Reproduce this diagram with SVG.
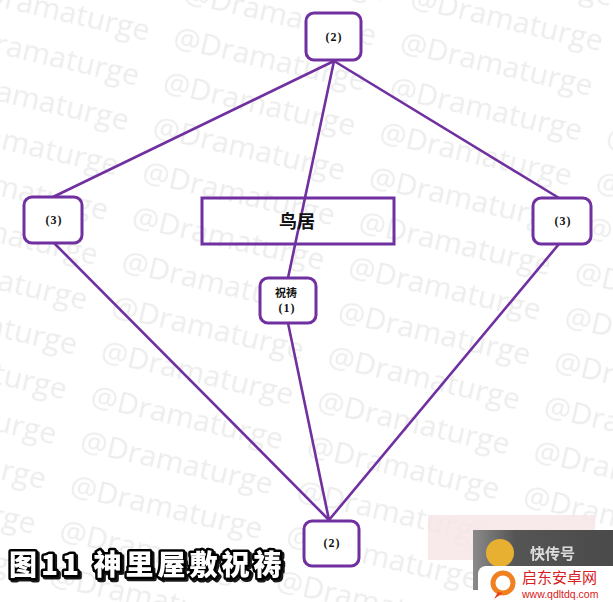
<svg xmlns="http://www.w3.org/2000/svg" width="613" height="602" viewBox="0 0 613 602">
<style>
.node{fill:#fff;stroke:#7030a0;stroke-width:3}
.edge{stroke:#7030a0;stroke-width:2.6;fill:none;stroke-linecap:round}
.lbl{font-family:"Liberation Serif","Noto Sans CJK SC",serif;font-weight:bold;font-size:12px;fill:#111;text-anchor:middle;letter-spacing:1px}
.cjk{font-family:"Noto Sans CJK SC",sans-serif;font-weight:bold;fill:#111;text-anchor:middle}
.wm{font-family:"Open Sans","Noto Sans",sans-serif;font-size:30px;fill:#ededed}
.title{font-family:"Noto Sans CJK SC",sans-serif;font-weight:900;font-size:28px;letter-spacing:4px}
</style>
<defs>
<pattern id="wmp" patternUnits="userSpaceOnUse" x="174" y="17" width="222" height="46" patternTransform="rotate(13)">
<text class="wm" x="4" y="36">@Dramaturge</text>
</pattern>
<filter id="shadow" x="-5%" y="-20%" width="110%" height="140%">
<feDropShadow dx="2" dy="2" stdDeviation="0.6" flood-color="#000" flood-opacity="0.9"/>
</filter>
<linearGradient id="gb" x1="0" x2="1"><stop offset="0" stop-color="#8a8a8a"/><stop offset="0.3" stop-color="#555"/><stop offset="1" stop-color="#4a4a4a"/></linearGradient>
</defs>
<rect width="613" height="602" fill="#fff"/>
<rect width="613" height="602" fill="url(#wmp)"/>
<g id="connectors">
<line class="edge" x1="334" y1="61" x2="53" y2="197"/>
<line class="edge" x1="334" y1="61" x2="559" y2="198"/>
<line class="edge" x1="334" y1="61" x2="288" y2="278"/>
<line class="edge" x1="288" y1="323" x2="329" y2="520"/>
<line class="edge" x1="54" y1="243" x2="329" y2="520"/>
<line class="edge" x1="559" y1="244" x2="329" y2="520"/>
</g>
<g id="torii">
<rect x="202" y="198" width="192" height="46" fill="none" stroke="#7030a0" stroke-width="3"/>
<text class="cjk" x="297" y="228" font-size="18">鸟居</text>
</g>
<g id="node-top">
<rect class="node" x="306" y="13" width="55" height="47" rx="8"/>
<text class="lbl" x="334" y="41">(2)</text>
</g>
<g id="node-left">
<rect class="node" x="24" y="197" width="58" height="46" rx="8"/>
<text class="lbl" x="54" y="224">(3)</text>
</g>
<g id="node-right">
<rect class="node" x="533" y="198" width="58" height="46" rx="8"/>
<text class="lbl" x="563" y="225">(3)</text>
</g>
<g id="node-prayer">
<rect class="node" x="260" y="278" width="56" height="45" rx="8"/>
<text class="cjk" x="286" y="297" font-size="11">祝祷</text>
<text class="lbl" x="287" y="312">(1)</text>
</g>
<g id="node-bottom">
<rect class="node" x="304" y="521" width="55" height="45" rx="8"/>
<text class="lbl" x="332" y="547">(2)</text>
</g>
<g id="caption">
<text class="title" x="9" y="575" fill="#fff" stroke="#000" stroke-width="5" stroke-linejoin="round" paint-order="stroke" filter="url(#shadow)">图11 神里屋敷祝祷</text>
</g>
<g id="site-mark">
<rect x="428" y="515" width="167" height="45" fill="#f6e4e6" opacity="0.8"/>
<rect x="473" y="530" width="140" height="60" fill="url(#gb)"/>
<circle cx="500" cy="553" r="14" fill="#e8b030"/>
<text x="530" y="559" font-family="Noto Sans CJK SC,sans-serif" font-weight="bold" font-size="15" fill="#fff" opacity="0.8">快传号</text>
<rect x="478" y="566" width="150" height="45" rx="8" fill="#fff"/>
<circle cx="503" cy="583" r="10" fill="none" stroke="#f08020" stroke-width="5"/>
<path d="M498 592 L494 599 L503 593 Z" fill="#e84020"/>
<text x="522" y="583" font-family="Noto Sans CJK SC,sans-serif" font-size="15" fill="#d82020">启东安卓网</text>
<text x="522" y="598" font-family="Liberation Sans,sans-serif" font-size="10.5" fill="#d82020">www.qdltdq.com</text>
</g>
</svg>
